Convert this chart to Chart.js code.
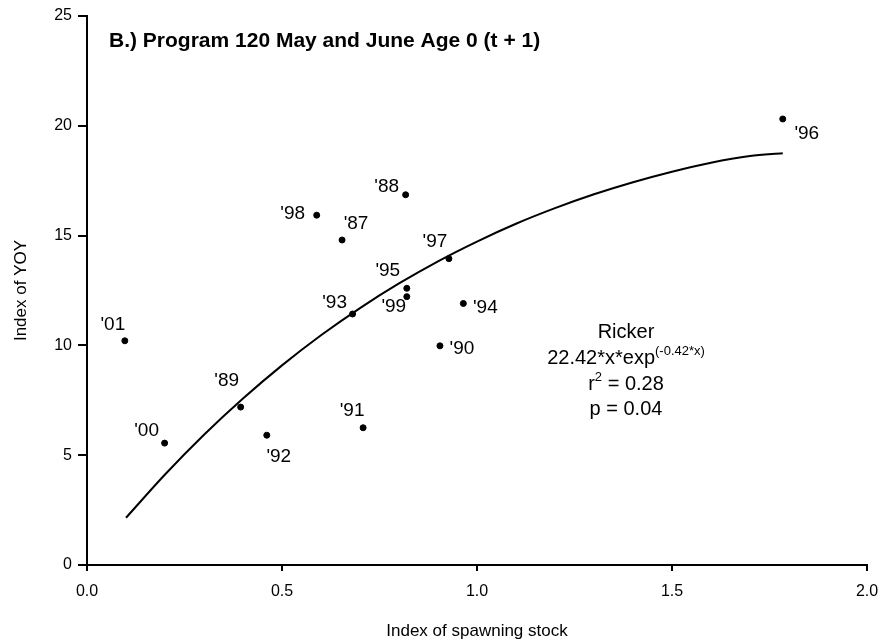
<!DOCTYPE html>
<html>
<head>
<meta charset="utf-8">
<script src="https://cdn.jsdelivr.net/npm/chart.js@4/dist/chart.umd.min.js"></script>
<style>
  body { margin: 0; background: #fff; }
  #wrap { width: 882px; height: 644px; }
</style>
</head>
<body>
<div id="wrap"><canvas id="chart" width="882" height="644"></canvas></div>
<script>
// year labels and index values
const years = ["'87", "'88", "'89", "'90", "'91", "'92", "'93", "'94", "'95", "'96", "'97", "'98", "'99", "'00", "'01"];
const spawningStock = [0.654, 0.817, 0.394, 0.905, 0.708, 0.461, 0.681, 0.965, 0.820, 1.784, 0.928, 0.589, 0.820, 0.199, 0.097];
const yoyIndex = [14.80, 16.86, 7.19, 9.98, 6.25, 5.91, 11.43, 11.91, 12.60, 20.31, 13.95, 15.93, 12.22, 5.55, 10.21];

// Ricker fit line
const fitX = [0.1, 0.2, 0.3, 0.4, 0.5, 0.6, 0.7, 0.8, 0.9, 1.0, 1.1, 1.2, 1.3, 1.4, 1.5, 1.6, 1.7, 1.784];
const fitY = [2.15, 4.12, 5.93, 7.58, 9.09, 10.46, 11.70, 12.82, 13.83, 14.73, 15.54, 16.25, 16.88, 17.43, 17.91, 18.32, 18.62, 18.75];

const xTicks = [0, 0.5, 1.0, 1.5, 2.0];
const yTicks = [0, 5, 10, 15, 20, 25];

// where each year label sits relative to its dot (px)
const labelOffsets = [[14, -16], [-19, -8], [-14, -26], [22, 3], [-11, -17], [12, 22], [-18, -11], [22, 4],
  [-19, -18], [24, 15], [-14, -17], [-24, -1], [-13, 10], [-18, -12], [-12, -16]];

const FONT = "'Liberation Sans', Arial, Helvetica, sans-serif";

const textPlugin = {
  id: 'textPlugin',
  afterDatasetsDraw(chart) {
    const ctx = chart.ctx;
    const xs = chart.scales.x, ys = chart.scales.y;
    ctx.save();
    ctx.fillStyle = '#000';

    // year labels
    ctx.font = '19px ' + FONT;
    ctx.textAlign = 'center';
    ctx.textBaseline = 'middle';
    years.forEach((yr, i) => {
      const px = xs.getPixelForValue(spawningStock[i]);
      const py = ys.getPixelForValue(yoyIndex[i]);
      ctx.fillText(yr, px + labelOffsets[i][0], py + labelOffsets[i][1]);
    });

    // panel title
    ctx.font = 'bold 21px ' + FONT;
    ctx.textAlign = 'left';
    ctx.textBaseline = 'alphabetic';
    ctx.fillText('B.) Program 120 May and June Age 0 (t + 1)', 109, 47);

    // fit statistics
    const cx = 626;
    const lines = [
      [['Ricker', false]],
      [['22.42*x*exp', false], ['(-0.42*x)', true]],
      [['r', false], ['2', true], [' = 0.28', false]],
      [['p = 0.04', false]]
    ];
    const baselines = [338, 364, 390, 415];
    lines.forEach((segs, li) => {
      let w = 0;
      segs.forEach(([t, sup]) => {
        ctx.font = (sup ? '13px ' : '20px ') + FONT;
        w += ctx.measureText(t).width;
      });
      let x = cx - w / 2;
      segs.forEach(([t, sup]) => {
        ctx.font = (sup ? '13px ' : '20px ') + FONT;
        ctx.fillText(t, x, baselines[li] - (sup ? 9 : 0));
        x += ctx.measureText(t).width;
      });
    });
    ctx.restore();
  }
};

new Chart(document.getElementById('chart'), {
  type: 'scatter',
  data: {
    datasets: [
      {
        label: 'Observed',
        data: spawningStock.map((x, i) => ({ x: x, y: yoyIndex[i] })),
        backgroundColor: '#000',
        borderColor: '#000',
        pointRadius: 3,
        pointHoverRadius: 3
      },
      {
        label: 'Ricker',
        type: 'line',
        data: fitX.map((x, i) => ({ x: x, y: fitY[i] })),
        borderColor: '#000',
        borderWidth: 2,
        pointRadius: 0,
        fill: false,
        cubicInterpolationMode: 'monotone'
      }
    ]
  },
  options: {
    responsive: false,
    animation: false,
    layout: { padding: { left: 0, right: 15, top: 16, bottom: 0 } },
    plugins: {
      legend: { display: false },
      tooltip: { enabled: false }
    },
    scales: {
      x: {
        type: 'linear',
        min: 0,
        max: 2,
        afterBuildTicks: (s) => { s.ticks = xTicks.map(v => ({ value: v })); },
        afterFit: (s) => { s.height = 79; s.paddingLeft = 0; s.paddingRight = 0; },
        grid: { drawOnChartArea: false, drawTicks: true, tickLength: 6, color: '#000', lineWidth: 2 },
        border: { color: '#000', width: 2 },
        ticks: {
          color: '#000',
          font: { family: FONT, size: 16 },
          padding: 11,
          maxRotation: 0,
          callback: (v) => v.toFixed(1)
        },
        title: {
          display: true,
          text: 'Index of spawning stock',
          color: '#000',
          font: { family: FONT, size: 17 },
          padding: { top: 0, bottom: 2 }
        }
      },
      y: {
        min: 0,
        max: 25,
        afterBuildTicks: (s) => { s.ticks = yTicks.map(v => ({ value: v })); },
        afterFit: (s) => { s.width = 87; s.paddingTop = 0; s.paddingBottom = 0; },
        grid: { drawOnChartArea: false, drawTicks: true, tickLength: 9, color: '#000', lineWidth: 2 },
        border: { color: '#000', width: 2 },
        ticks: {
          color: '#000',
          font: { family: FONT, size: 16 },
          padding: 6
        },
        title: {
          display: true,
          text: 'Index of YOY',
          color: '#000',
          font: { family: FONT, size: 17 },
          padding: { top: 11, bottom: 0 }
        }
      }
    }
  },
  plugins: [textPlugin]
});
</script>
</body>
</html>
